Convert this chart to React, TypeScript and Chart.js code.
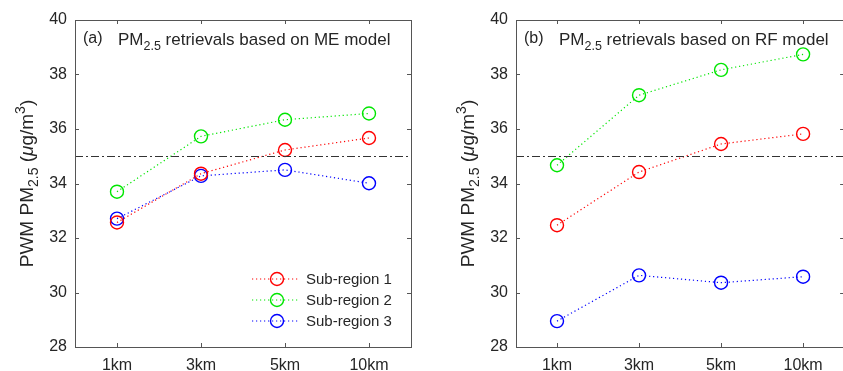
import React, { useEffect, useRef } from "react";
import { Chart, registerables } from "chart.js";

Chart.register(...registerables);

const categories = ["1km", "3km", "5km", "10km"];
const seriesNames = ["Sub-region 1", "Sub-region 2", "Sub-region 3"];
const meSub1 = [32.57, 34.36, 35.23, 35.67];
const meSub2 = [33.7, 35.73, 36.34, 36.57];
const meSub3 = [32.71, 34.28, 34.5, 34.01];
const rfSub1 = [32.47, 34.42, 35.45, 35.82];
const rfSub2 = [34.67, 37.24, 38.17, 38.74];
const rfSub3 = [28.95, 30.63, 30.36, 30.58];
const yMin = 28;
const yMax = 40;
const yStep = 2;
const threshold = 35;
const colors = ["#ff0000", "#00e600", "#0000ff"];

const FONT = '"Liberation Sans", Arial, Helvetica, sans-serif';
const TEXT = "#262626";

type Part = { t: string; size: number; dy?: number; italic?: boolean };

function measure(ctx: CanvasRenderingContext2D, parts: Part[]) {
  let w = 0;
  for (const p of parts) {
    ctx.font = `${p.italic ? "italic " : ""}${p.size}px ${FONT}`;
    w += ctx.measureText(p.t).width;
  }
  return w;
}

function drawParts(ctx: CanvasRenderingContext2D, parts: Part[], x: number, y: number) {
  let cx = x;
  for (const p of parts) {
    ctx.font = `${p.italic ? "italic " : ""}${p.size}px ${FONT}`;
    ctx.fillText(p.t, cx, y + (p.dy || 0));
    cx += ctx.measureText(p.t).width;
  }
}

function makePlugin(tag: string, model: string, showLegend: boolean) {
  return {
    id: "decor",
    afterDraw(chart: any) {
      const ctx: CanvasRenderingContext2D = chart.ctx;
      const a = chart.chartArea;
      const xs = chart.scales.x;
      const ys = chart.scales.y;
      ctx.save();
      // threshold dash-dot line
      const ty = ys.getPixelForValue(threshold);
      ctx.strokeStyle = "#333333";
      ctx.lineWidth = 1;
      ctx.setLineDash([8, 3, 2, 3]);
      ctx.beginPath();
      ctx.moveTo(a.left, Math.round(ty) + 0.5);
      ctx.lineTo(a.right, Math.round(ty) + 0.5);
      ctx.stroke();
      ctx.setLineDash([]);
      // frame
      ctx.strokeStyle = "#555555";
      ctx.lineWidth = 1;
      ctx.strokeRect(Math.round(a.left) + 0.5, Math.round(a.top) + 0.5, Math.round(a.right - a.left), Math.round(a.bottom - a.top));
      // inward ticks
      const tl = 4;
      ctx.beginPath();
      for (let i = 0; i < categories.length; i++) {
        const px = Math.round(xs.getPixelForValue(i)) + 0.5;
        ctx.moveTo(px, a.bottom);
        ctx.lineTo(px, a.bottom - tl);
        ctx.moveTo(px, a.top);
        ctx.lineTo(px, a.top + tl);
      }
      for (let v = yMin; v <= yMax; v += yStep) {
        const py = Math.round(ys.getPixelForValue(v)) + 0.5;
        ctx.moveTo(a.left, py);
        ctx.lineTo(a.left + tl, py);
        ctx.moveTo(a.right, py);
        ctx.lineTo(a.right - tl, py);
      }
      ctx.stroke();
      // annotation
      ctx.fillStyle = TEXT;
      ctx.textBaseline = "alphabetic";
      ctx.textAlign = "left";
      ctx.font = `16px ${FONT}`;
      ctx.fillText(tag, a.left + 8, a.top + 23);
      drawParts(
        ctx,
        [
          { t: "PM", size: 17 },
          { t: "2.5", size: 12.5, dy: 5 },
          { t: ` retrievals based on ${model} model`, size: 17 },
        ],
        a.left + 43,
        a.top + 25
      );
      // y title
      const yParts: Part[] = [
        { t: "PWM PM", size: 19 },
        { t: "2.5", size: 14, dy: 5 },
        { t: " (", size: 19 },
        { t: "\u03bc", size: 19, italic: true },
        { t: "g/m", size: 19 },
        { t: "3", size: 14, dy: -8 },
        { t: ")", size: 19 },
      ];
      const w = measure(ctx, yParts);
      ctx.save();
      ctx.translate(a.left - 42, (a.top + a.bottom) / 2);
      ctx.rotate(-Math.PI / 2);
      drawParts(ctx, yParts, -w / 2, 0);
      ctx.restore();
      // legend
      if (showLegend) {
        for (let i = 0; i < seriesNames.length; i++) {
          const cy = a.bottom - 68 + i * 21;
          const x0 = a.right - 159;
          ctx.strokeStyle = colors[i];
          ctx.lineWidth = 1.2;
          ctx.setLineDash([1.2, 2.8]);
          ctx.beginPath();
          ctx.moveTo(x0, cy);
          ctx.lineTo(x0 + 48, cy);
          ctx.stroke();
          ctx.setLineDash([]);
          ctx.lineWidth = 1.4;
          ctx.beginPath();
          ctx.arc(x0 + 25, cy, 6.5, 0, Math.PI * 2);
          ctx.stroke();
          ctx.fillStyle = TEXT;
          ctx.font = `15px ${FONT}`;
          ctx.textBaseline = "middle";
          ctx.fillText(seriesNames[i], x0 + 54, cy + 1);
        }
      }
      ctx.restore();
    },
  };
}

function buildConfig(series: number[][], yAxisWidth: number, padRight: number, tag: string, model: string, legend: boolean): any {
  return {
    type: "line",
    data: {
      labels: categories,
      datasets: series.map((d, i) => ({
        label: seriesNames[i],
        data: d,
        borderColor: colors[i],
        borderWidth: 1.2,
        borderDash: [1.2, 2.8],
        pointStyle: "circle",
        pointRadius: 6.5,
        pointBorderWidth: 1.4,
        pointBackgroundColor: "rgba(0,0,0,0)",
        pointBorderColor: colors[i],
        tension: 0,
        fill: false,
      })),
    },
    options: {
      responsive: false,
      animation: false,
      devicePixelRatio: 1,
      layout: { padding: { top: 20, right: padRight, left: 0, bottom: 0 } },
      plugins: { legend: { display: false }, tooltip: { enabled: false }, title: { display: false } },
      scales: {
        x: {
          type: "category",
          offset: true,
          grid: { display: false, drawTicks: false },
          border: { display: false },
          ticks: { color: TEXT, font: { family: FONT, size: 16 }, padding: 9, maxRotation: 0, autoSkip: false },
          afterFit: (s: any) => {
            s.height = 24;
          },
        },
        y: {
          min: yMin,
          max: yMax,
          grid: { display: false, drawTicks: false },
          border: { display: false },
          ticks: { stepSize: yStep, color: TEXT, font: { family: FONT, size: 16 }, padding: 8 },
          afterFit: (s: any) => {
            s.width = yAxisWidth;
          },
        },
      },
    },
    plugins: [makePlugin(tag, model, legend)],
  };
}

function Panel(props: { left: number; width: number; cfg: any }) {
  const ref = useRef<HTMLCanvasElement>(null);
  useEffect(() => {
    const chart = new Chart(ref.current as HTMLCanvasElement, props.cfg);
    return () => chart.destroy();
  }, []);
  return (
    <canvas
      ref={ref}
      width={props.width}
      height={371}
      style={{ position: "absolute", left: props.left, top: 0, width: props.width, height: 371 }}
    />
  );
}

export default function App() {
  const cfgA = buildConfig([meSub1, meSub2, meSub3], 75, 9, "(a)", "ME", true);
  const cfgB = buildConfig([rfSub1, rfSub2, rfSub3], 96, 0, "(b)", "RF", false);
  return (
    <div
      style={{
        position: "absolute",
        left: 0,
        top: 0,
        width: 843,
        height: 371,
        overflow: "hidden",
        background: "#ffffff",
      }}
    >
      <Panel left={0} width={420} cfg={cfgA} />
      <Panel left={420} width={432} cfg={cfgB} />
    </div>
  );
}
